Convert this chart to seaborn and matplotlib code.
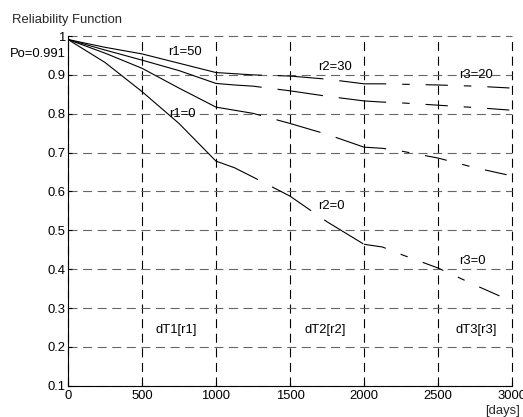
import matplotlib
matplotlib.use("Agg")
import matplotlib.pyplot as plt
import seaborn as sns
import pandas as pd

# knots of the reliability curves (days)
days = [0, 250, 500, 750, 1000, 1125, 1250, 1500, 1750, 2000, 2125, 2250, 2500, 2750, 3000]

# R(t) for the four cases
r_a = [0.991, 0.971, 0.954, 0.930, 0.906, 0.903, 0.900, 0.897, 0.889, 0.877, 0.877, 0.876, 0.874, 0.871, 0.866]
r_b = [0.991, 0.964, 0.938, 0.911, 0.878, 0.874, 0.871, 0.859, 0.845, 0.833, 0.830, 0.828, 0.822, 0.816, 0.809]
r_c = [0.991, 0.956, 0.917, 0.866, 0.817, 0.809, 0.801, 0.775, 0.747, 0.714, 0.711, 0.704, 0.686, 0.661, 0.640]
r_d = [0.991, 0.932, 0.857, 0.775, 0.678, 0.661, 0.637, 0.588, 0.522, 0.464, 0.457, 0.438, 0.403, 0.359, 0.317]

curves = {"a": r_a, "b": r_b, "c": r_c, "d": r_d}
seg_edges = [(0, 1000, "dT1"), (1000, 2000, "dT2"), (2000, 3000, "dT3")]

# text labels
labels = [
    ("r1=50", 790, 0.960), ("r1=0", 775, 0.800),
    ("r2=30", 1805, 0.920), ("r2=0", 1782, 0.562),
    ("r3=20", 2757, 0.900), ("r3=0", 2734, 0.421),
    ("dT1[r1]", 732, 0.243), ("dT2[r2]", 1736, 0.243), ("dT3[r3]", 2757, 0.243),
]

rows = []
for name, vals in curves.items():
    for lo, hi, seg in seg_edges:
        for d, v in zip(days, vals):
            if lo <= d <= hi:
                rows.append({"days": d, "R": v, "curve": name, "seg": seg})
df = pd.DataFrame(rows)

sns.set_style("ticks")
plt.rcParams["font.family"] = ["Liberation Sans", "DejaVu Sans"]
plt.rcParams["font.size"] = 9.4
plt.rcParams["lines.scale_dashes"] = False

fig = plt.figure(figsize=(5.23, 4.17), dpi=100)
ax = fig.add_axes([0.130, 0.075, 0.849, 0.8386])

sns.lineplot(
    data=df, x="days", y="R", style="seg", units="curve", estimator=None,
    dashes={"dT1": "", "dT2": (33, 11.5), "dT3": (16, 11.5, 5.4, 11.5)},
    color="k", linewidth=0.8, legend=False, sort=False, ax=ax,
)

ax.set_xlim(0, 3000)
ax.set_ylim(0.1, 1.0)
ax.set_xticks([0, 500, 1000, 1500, 2000, 2500, 3000])
ax.set_yticks([0.1, 0.2, 0.3, 0.4, 0.5, 0.6, 0.7, 0.8, 0.9, 1.0])
ax.set_yticklabels(["0.1", "0.2", "0.3", "0.4", "0.5", "0.6", "0.7", "0.8", "0.9", "1"])
ax.set_xlabel("")
ax.set_ylabel("")

ax.xaxis.grid(True, color="k", linestyle=(0, (6.5, 4)), linewidth=0.8)
ax.yaxis.grid(True, color="0.4", linestyle=(0, (6.5, 4)), linewidth=0.8)
ax.set_axisbelow(True)
for g in ax.get_xgridlines() + ax.get_ygridlines():
    g.set_clip_on(False)

for s in ["top", "right"]:
    ax.spines[s].set_visible(False)
for s in ["left", "bottom"]:
    ax.spines[s].set_linewidth(0.8)
    ax.spines[s].set_color("k")
ax.tick_params(axis="both", direction="in", length=3, width=0.8, colors="k")
ax.tick_params(axis="y", pad=1.7)
ax.tick_params(axis="x", pad=3)

for txt, x, y in labels:
    ax.text(x, y, txt, ha="center", va="center", color="k")

ax.text(-0.005, 0.955, "Po=0.991", transform=ax.get_yaxis_transform(),
        ha="right", va="center", color="k")
fig.text(11.5 / 523, 1 - 20 / 417, "Reliability Function", ha="left", va="center")
fig.text(502 / 523, 1 - 411 / 417, "[days]", ha="center", va="center")

fig.savefig("out.png", dpi=100)
